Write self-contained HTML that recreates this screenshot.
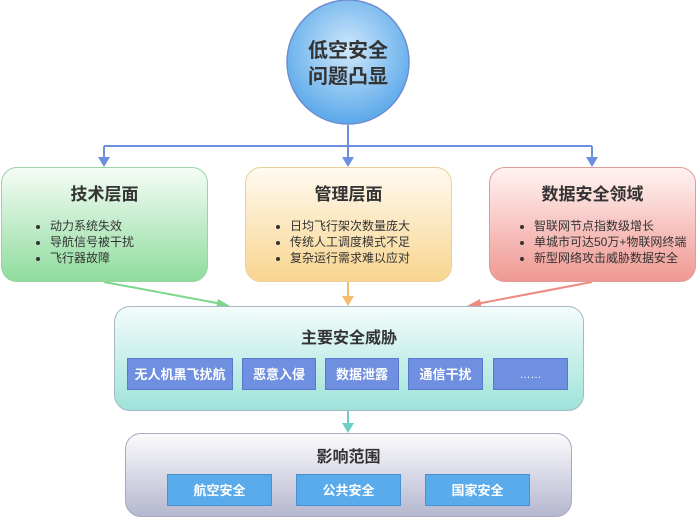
<!DOCTYPE html>
<html><head><meta charset="utf-8"><style>
body{margin:0;width:697px;height:517px;background:#fff;position:relative;overflow:hidden;font-family:"Liberation Sans","Noto Sans CJK SC",sans-serif;}
.abs{position:absolute;box-sizing:border-box;}
.card{border-radius:16px;}
.t{position:absolute;left:0;right:0;text-align:center;font-weight:bold;color:#333;font-size:16px;}
.t2{font-size:17px;}
ul{position:absolute;margin:0;padding-left:18px;font-size:12px;line-height:16px;color:#333;}
.sb{position:absolute;color:#fff;font-size:13px;font-weight:bold;text-align:center;line-height:32px;height:32px;box-sizing:border-box;}
.p{background:#6f8fe0;border:1px solid #5a78c9;}
.b{background:#5aabec;border:1px solid #4a90d0;}
</style></head><body>
<svg class="abs" style="left:0;top:0" width="697" height="517">
<defs>
<radialGradient id="cg" cx="50%" cy="40%" r="60%"><stop offset="0" stop-color="#cfe8fb"/><stop offset="1" stop-color="#5aa8ea"/></radialGradient>
</defs>
<ellipse cx="348" cy="62" rx="61" ry="62" fill="url(#cg)" stroke="#6d8fcf" stroke-width="1.5"/>
<text x="348" y="57" text-anchor="middle" font-size="20" font-weight="bold" fill="#333" font-family="Liberation Sans,Noto Sans CJK SC,sans-serif">低空安全</text>
<text x="348" y="83" text-anchor="middle" font-size="20" font-weight="bold" fill="#333" font-family="Liberation Sans,Noto Sans CJK SC,sans-serif">问题凸显</text>
<g stroke="#6d8fe0" stroke-width="2" fill="none">
<line x1="348" y1="125" x2="348" y2="160"/><line x1="104" y1="146" x2="592" y2="146"/>
<line x1="104" y1="146" x2="104" y2="160"/><line x1="592" y1="146" x2="592" y2="160"/>
</g>
<g fill="#6d8fe0"><polygon points="98,157 110,157 104,167"/><polygon points="342,157 354,157 348,167"/><polygon points="586,157 598,157 592,167"/></g>
<line x1="104" y1="282" x2="222" y2="304" stroke="#7bd88a" stroke-width="2"/><polygon points="230,306 218,299 216,309" fill="#7bd88a"/>
<line x1="348" y1="282" x2="348" y2="298" stroke="#f5bc6a" stroke-width="2"/><polygon points="342,296 354,296 348,306" fill="#f5bc6a"/>
<line x1="592" y1="282" x2="476" y2="304" stroke="#f08a80" stroke-width="2"/><polygon points="467,306 480,299 482,309" fill="#f08a80"/>
<line x1="348" y1="410" x2="348" y2="425" stroke="#6ccfc8" stroke-width="2"/><polygon points="342,423 354,423 348,433" fill="#6ccfc8"/>
</svg>

<div class="abs card" style="left:1px;top:167px;width:207px;height:115px;background:linear-gradient(#f5fcf6,#8fdc9d);border:1px solid #9bd3a3;">
<div class="t t2" style="top:12px">技术层面</div>
<ul style="left:30px;top:50px"><li>动力系统失效</li><li>导航信号被干扰</li><li>飞行器故障</li></ul></div>
<div class="abs card" style="left:245px;top:167px;width:207px;height:115px;background:linear-gradient(#fffaf0,#f8d58f);border:1px solid #ead098;">
<div class="t t2" style="top:12px">管理层面</div>
<ul style="left:26px;top:50px"><li>日均飞行架次数量庞大</li><li>传统人工调度模式不足</li><li>复杂运行需求难以应对</li></ul></div>
<div class="abs card" style="left:489px;top:167px;width:207px;height:115px;background:linear-gradient(#fff3f2,#f09892);border:1px solid #de9c98;">
<div class="t t2" style="top:12px">数据安全领域</div>
<ul style="left:26px;top:50px"><li>智联网节点指数级增长</li><li>单城市可达50万+物联网终端</li><li>新型网络攻击威胁数据安全</li></ul></div>

<div class="abs card" style="left:114px;top:306px;width:470px;height:105px;background:linear-gradient(#f4fcfb,#9ee3da);border:1px solid #a6b8c6;">
<div class="t" style="top:17px">主要安全威胁</div></div>
<div class="sb p" style="left:127px;top:358px;width:106px">无人机黑飞扰航</div>
<div class="sb p" style="left:242px;top:358px;width:74px">恶意入侵</div>
<div class="sb p" style="left:325px;top:358px;width:74px">数据泄露</div>
<div class="sb p" style="left:408px;top:358px;width:75px">通信干扰</div>
<div class="sb p" style="left:493px;top:358px;width:75px;font-weight:normal;font-size:11px">……</div>

<div class="abs card" style="left:125px;top:433px;width:447px;height:84px;background:linear-gradient(#fbfbfd,#b5b7cf);border:1px solid #a8abc0;">
<div class="t" style="top:9px">影响范围</div></div>
<div class="sb b" style="left:167px;top:474px;width:105px">航空安全</div>
<div class="sb b" style="left:296px;top:474px;width:105px">公共安全</div>
<div class="sb b" style="left:425px;top:474px;width:105px">国家安全</div>
</body></html>
